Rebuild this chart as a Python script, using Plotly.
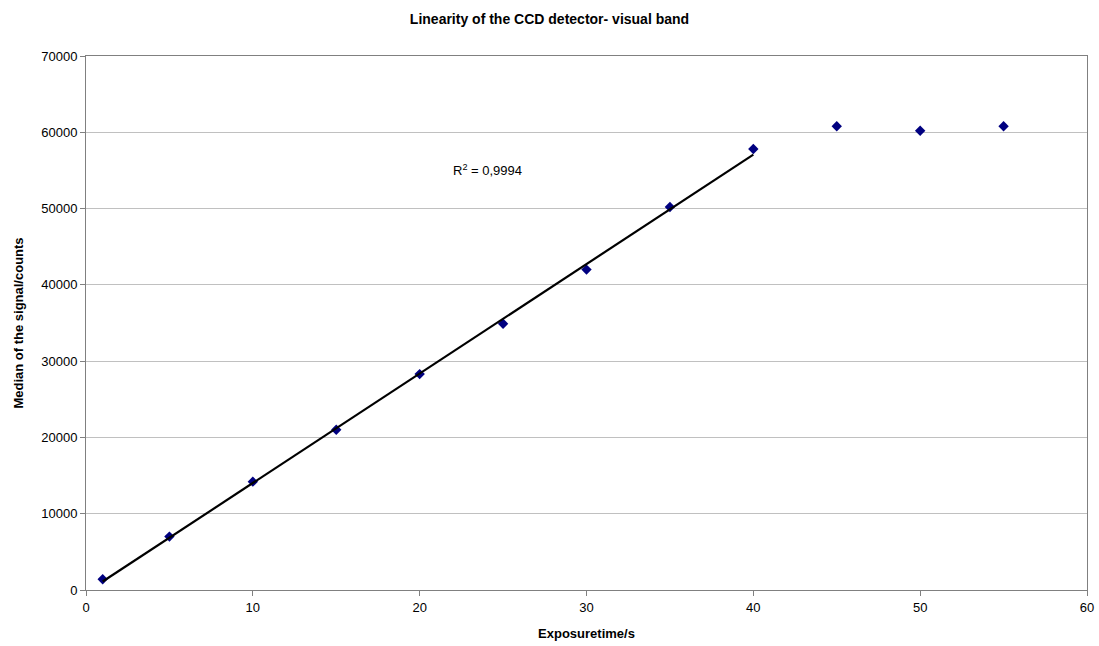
import numpy as np
import plotly.graph_objects as go

exposure = [1, 5, 10, 15, 20, 25, 30, 35, 40, 45, 50, 55]
median_counts = [1400, 7000, 14200, 21000, 28300, 34900, 42000, 50200, 57800, 60800, 60200, 60800]
fit_n = 9  # linear region used for the trendline (1..40 s)
r2_text = "R<sup>2</sup> = 0,9994"

x_fit = np.array(exposure[:fit_n], dtype=float)
y_fit = np.array(median_counts[:fit_n], dtype=float)
slope, intercept = np.polyfit(x_fit, y_fit, 1)
trend_x = [x_fit[0], x_fit[-1]]
trend_y = [slope * v + intercept for v in trend_x]

fig = go.Figure()
fig.add_trace(go.Scatter(x=exposure, y=median_counts, mode="markers",
                         marker=dict(symbol="diamond", size=8, color="#000080"),
                         showlegend=False))
fig.add_trace(go.Scatter(x=trend_x, y=trend_y, mode="lines",
                         line=dict(color="black", width=2.2), showlegend=False))

fig.add_annotation(x=21.9, y=55000, xref="x", yref="y", text=r2_text, showarrow=False,
                   xanchor="left", yanchor="middle",
                   font=dict(family="Liberation Sans, Arial", size=13, color="black"))

fig.update_layout(
    width=1099, height=646,
    margin=dict(l=86, r=12, t=56, b=56, autoexpand=False),
    paper_bgcolor="white", plot_bgcolor="white",
    font=dict(family="Liberation Sans, Arial", size=13, color="black"),
    title=dict(text="<b>Linearity of the CCD detector- visual band</b>", x=0.5, xanchor="center",
               y=0.971, yanchor="middle", font=dict(size=14)),
    xaxis=dict(range=[0, 60], dtick=10, showgrid=False, zeroline=False, automargin=False,
               showline=True, linecolor="#808080", linewidth=1, mirror=True,
               ticks="outside", ticklen=5, tickcolor="#808080", tickformat="d",
               ticklabeloverflow="allow",
               title=dict(text="<b>Exposuretime/s</b>", font=dict(size=13), standoff=15)),
    yaxis=dict(range=[0, 70000], dtick=10000, showgrid=True, gridcolor="#c0c0c0", gridwidth=1,
               zeroline=False, showline=True, linecolor="#808080", linewidth=1, mirror=True,
               automargin=False, tickformat="d",
               ticks="outside", ticklen=5, tickcolor="#808080",
               title=dict(text="<b>Median of the signal/counts</b>", font=dict(size=13), standoff=14)),
)

fig.write_html("out.html", config={"displayModeBar": False},
               post_script="document.body.style.margin='0';document.body.style.overflow='hidden';")
